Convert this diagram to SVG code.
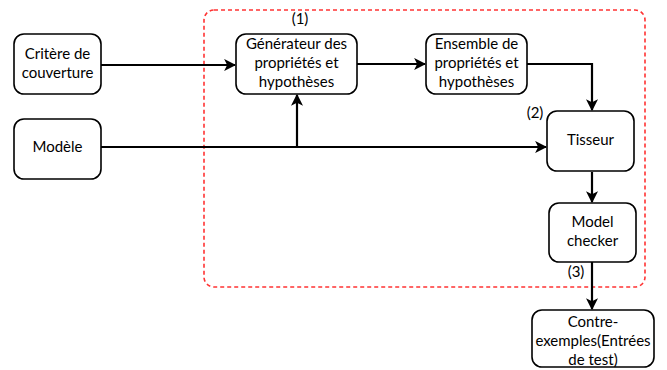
<svg xmlns="http://www.w3.org/2000/svg" width="667" height="370" viewBox="0 0 667 370">
  <style>
    .box { fill: #ffffff; stroke: #000000; stroke-width: 1.6; }
    .lbl { font-family: Lato, "Open Sans", sans-serif; font-size: 15px; fill: #000000; text-anchor: middle; }
    .edge { fill: none; stroke: #000000; stroke-width: 2.2; }
    .frame { fill: none; stroke: #ff3333; stroke-width: 1.6; stroke-dasharray: 4 3; }
  </style>
  <defs>
    <marker id="arrow" viewBox="0 0 10 10" refX="9" refY="5" markerWidth="5.5" markerHeight="5.5" orient="auto" markerUnits="strokeWidth">
      <path d="M0,0 L10,5 L0,10 L2.5,5 Z" fill="#000000"/>
    </marker>
  </defs>

  <rect class="frame" x="204" y="10" width="441" height="277" rx="10"/>

  <g id="connectors">
    <path class="edge" d="M101,65 L235,65" marker-end="url(#arrow)"/>
    <path class="edge" d="M357,64 L425,64" marker-end="url(#arrow)"/>
    <path class="edge" d="M527,64 L592,64 L592,110" marker-end="url(#arrow)"/>
    <path class="edge" d="M101,147 L546,147" marker-end="url(#arrow)"/>
    <path class="edge" d="M297,147 L297,95" marker-end="url(#arrow)"/>
    <path class="edge" d="M592,172 L592,202" marker-end="url(#arrow)"/>
    <path class="edge" d="M592,262 L592,309" marker-end="url(#arrow)"/>
  </g>

  <g id="critere">
    <rect class="box" x="14" y="34" width="87" height="60" rx="10"/>
    <text class="lbl" x="57.5" y="59">Critère de</text>
    <text class="lbl" x="57.5" y="78">couverture</text>
  </g>

  <g id="modele">
    <rect class="box" x="14" y="119" width="87" height="60" rx="10"/>
    <text class="lbl" x="57.5" y="152">Modèle</text>
  </g>

  <g id="generateur">
    <rect class="box" x="236" y="34" width="121" height="60" rx="10"/>
    <text class="lbl" x="296.5" y="49">Générateur des</text>
    <text class="lbl" x="296.5" y="68">propriétés et</text>
    <text class="lbl" x="296.5" y="87">hypothèses</text>
  </g>

  <g id="ensemble">
    <rect class="box" x="426" y="34" width="101" height="60" rx="10"/>
    <text class="lbl" x="476.5" y="49">Ensemble de</text>
    <text class="lbl" x="476.5" y="68">propriétés et</text>
    <text class="lbl" x="476.5" y="87">hypothèses</text>
  </g>

  <g id="tisseur">
    <rect class="box" x="547" y="111" width="87" height="60" rx="10"/>
    <text class="lbl" x="590.5" y="145">Tisseur</text>
  </g>

  <g id="model-checker">
    <rect class="box" x="549" y="203" width="87" height="59" rx="10"/>
    <text class="lbl" x="592.5" y="227">Model</text>
    <text class="lbl" x="592.5" y="246">checker</text>
  </g>

  <g id="contre-exemples">
    <rect class="box" x="532" y="310" width="122" height="57" rx="10"/>
    <text class="lbl" x="593" y="327">Contre-</text>
    <text class="lbl" x="593" y="346">exemples(Entrées</text>
    <text class="lbl" x="593" y="365">de test)</text>
  </g>

  <g id="step-labels">
    <text class="lbl" x="300" y="24">(1)</text>
    <text class="lbl" x="535" y="118">(2)</text>
    <text class="lbl" x="576" y="277">(3)</text>
  </g>
</svg>
